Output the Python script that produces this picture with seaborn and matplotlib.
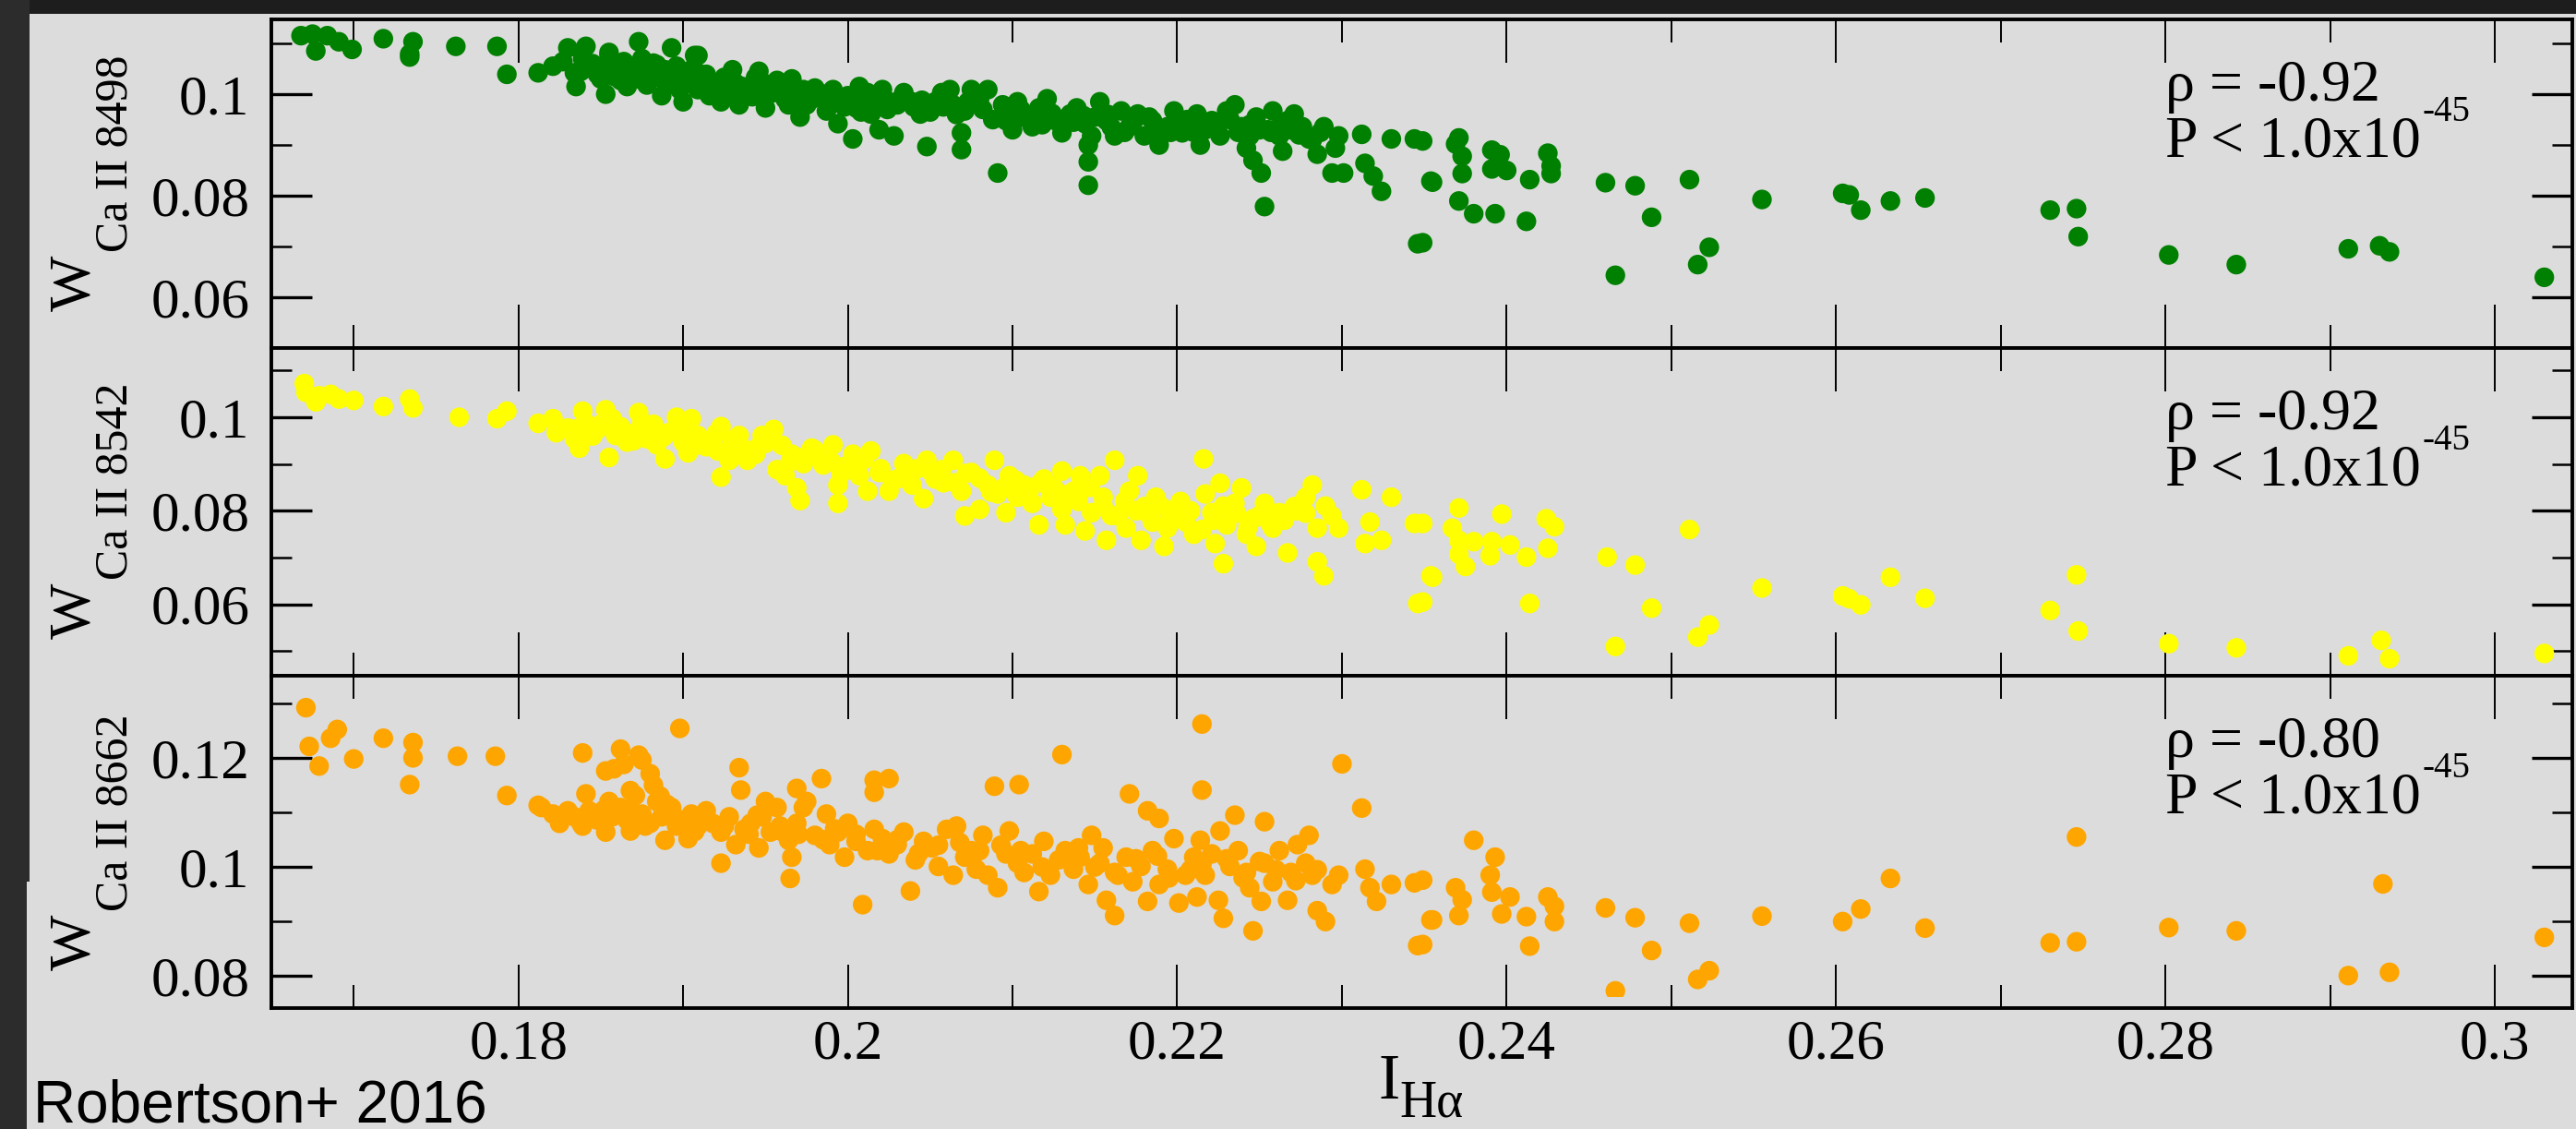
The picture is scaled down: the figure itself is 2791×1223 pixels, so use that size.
import matplotlib
matplotlib.use('Agg')
import matplotlib.pyplot as plt
import matplotlib.transforms as mtransforms
from matplotlib.patches import Rectangle
from matplotlib.ticker import MultipleLocator, FuncFormatter
import seaborn as sns

# ==========================================
# DATA
# ==========================================

# Panel 1: W Ca II 8498 vs I_Halpha (green)
green_x = [
    0.1668, 0.1675, 0.1684, 0.1691, 0.1677, 0.1699, 0.1718, 0.1736, 0.1734, 0.1734,
    0.1762, 0.1787, 0.1793, 0.1812, 0.1830, 0.1873, 0.1893, 0.1841, 0.1855, 0.1909,
    0.1821, 0.1827, 0.1834, 0.1835, 0.1839, 0.1843, 0.1848, 0.1850, 0.1853, 0.1855,
    0.1857, 0.1859, 0.1862, 0.1864, 0.1866, 0.1868, 0.1871, 0.1873, 0.1875, 0.1878,
    0.1880, 0.1882, 0.1884, 0.1887, 0.1889, 0.1891, 0.1893, 0.1896, 0.1898, 0.1900,
    0.1903, 0.1905, 0.1907, 0.1909, 0.1912, 0.1914, 0.1916, 0.1921, 0.1923, 0.1925,
    0.1928, 0.1930, 0.1932, 0.1934, 0.1939, 0.1944, 0.1946, 0.1948, 0.1950, 0.1953,
    0.1957, 0.1962, 0.1964, 0.1966, 0.1969, 0.1971, 0.1973, 0.1975, 0.1980, 0.1982,
    0.1987, 0.1989, 0.1991, 0.1994, 0.1996, 0.2000, 0.2003, 0.2005, 0.2007, 0.2012,
    0.2014, 0.2019, 0.2021, 0.2025, 0.2028, 0.2030, 0.2034, 0.2039, 0.2044, 0.2048,
    0.2053, 0.2057, 0.2062, 0.2064, 0.2069, 0.2069, 0.2071, 0.2075, 0.2080, 0.2085,
    0.2091, 0.2094, 0.2096, 0.2100, 0.2103, 0.2107, 0.2112, 0.2116, 0.2121, 0.2126,
    0.2130, 0.2135, 0.2139, 0.2144, 0.2146, 0.2146, 0.2146, 0.2148, 0.2153, 0.2157,
    0.2162, 0.2166, 0.2171, 0.2176, 0.2180, 0.2185, 0.2189, 0.2194, 0.2198, 0.2203,
    0.2212, 0.2214, 0.2217, 0.2221, 0.2226, 0.2230, 0.2235, 0.2239, 0.2242, 0.2244,
    0.2246, 0.2248, 0.2251, 0.2253, 0.2255, 0.2258, 0.2262, 0.2264, 0.2267, 0.2271,
    0.2276, 0.2280, 0.2285, 0.2289, 0.2294, 0.2296, 0.2298, 0.2301, 0.2312, 0.2314,
    0.2319, 0.2324, 0.2330, 0.2344, 0.2346, 0.2355,
    0.1838, 0.1852, 0.1866, 0.1879, 0.1886, 0.1901, 0.1915, 0.1926, 0.1942, 0.1955,
    0.1968, 0.1978, 0.1998, 0.2010, 0.2024, 0.2040, 0.2050, 0.2066, 0.2082, 0.2098,
    0.2110, 0.2124, 0.2137, 0.2150, 0.2160, 0.2174, 0.2187, 0.2200, 0.2210, 0.2224,
    0.2237, 0.2250, 0.2262, 0.2274, 0.2287,
    0.1845, 0.1858, 0.1872, 0.1884, 0.1897, 0.1910, 0.1922, 0.1936, 0.1950, 0.1962,
    0.1975, 0.1985, 0.1995, 0.2008, 0.2018, 0.2032, 0.2045, 0.2058, 0.2073, 0.2088,
    0.2105, 0.2118, 0.2132, 0.2143, 0.2158, 0.2168, 0.2183, 0.2196, 0.2206, 0.2219,
    0.2232, 0.2244, 0.2257, 0.2269, 0.2282,
    0.2349, 0.2349, 0.2354, 0.2369, 0.2371, 0.2373, 0.2373, 0.2371, 0.2380, 0.2391,
    0.2391, 0.2396, 0.2400, 0.2393, 0.2412, 0.2414, 0.2425, 0.2427, 0.2427, 0.2460,
    0.2466, 0.2478, 0.2488, 0.2511, 0.2516, 0.2523, 0.2555, 0.2604, 0.2608, 0.2615,
    0.2633, 0.2654, 0.2730, 0.2746, 0.2747, 0.2802, 0.2843, 0.2911, 0.2930, 0.2936,
    0.3030,
]
green_y = [
    0.1115, 0.1118, 0.1115, 0.1103, 0.1085, 0.1088, 0.1109, 0.1103, 0.1079, 0.1073,
    0.1094, 0.1094, 0.1039, 0.1042, 0.1091, 0.1103, 0.1091, 0.1094, 0.1082, 0.1076,
    0.1055, 0.1064, 0.1042, 0.1015, 0.1070, 0.1052, 0.1039, 0.1030, 0.1000, 0.1076,
    0.1058, 0.1045, 0.1027, 0.1064, 0.1015, 0.1039, 0.1052, 0.1030, 0.1070, 0.1018,
    0.1042, 0.1061, 0.1033, 0.0997, 0.1048, 0.1021, 0.1039, 0.1055, 0.1009, 0.0985,
    0.1030, 0.1048, 0.1076, 0.1009, 0.1027, 0.1039, 0.0997, 0.1015, 0.0985, 0.1033,
    0.1003, 0.1048, 0.1021, 0.0979, 0.1009, 0.1033, 0.1045, 0.0997, 0.0973, 0.1015,
    0.1027, 0.1003, 0.0979, 0.1030, 0.0991, 0.0955, 0.1009, 0.0979, 0.1012, 0.0997,
    0.0967, 0.0979, 0.1009, 0.0942, 0.0991, 0.0997, 0.0912, 0.0973, 0.1015, 0.1003,
    0.0961, 0.0930, 0.1009, 0.0985, 0.0918, 0.0979, 0.1003, 0.0985, 0.0961, 0.0897,
    0.0985, 0.1003, 0.1009, 0.0979, 0.0924, 0.0891, 0.0967, 0.1009, 0.0991, 0.1009,
    0.0845, 0.0979, 0.0948, 0.0930, 0.0985, 0.0955, 0.0936, 0.0973, 0.0991, 0.0948,
    0.0924, 0.0961, 0.0973, 0.0942, 0.0900, 0.0867, 0.0821, 0.0918, 0.0985, 0.0948,
    0.0918, 0.0967, 0.0936, 0.0961, 0.0918, 0.0948, 0.0900, 0.0936, 0.0967, 0.0924,
    0.0961, 0.0900, 0.0930, 0.0948, 0.0918, 0.0967, 0.0979, 0.0936, 0.0894, 0.0918,
    0.0870, 0.0955, 0.0845, 0.0779, 0.0930, 0.0967, 0.0918, 0.0888, 0.0948, 0.0961,
    0.0936, 0.0912, 0.0882, 0.0936, 0.0845, 0.0894, 0.0918, 0.0845, 0.0921, 0.0864,
    0.0839, 0.0809, 0.0912, 0.0912, 0.0706, 0.0827,
    0.1045, 0.1055, 0.1040, 0.1028, 0.1050, 0.1020, 0.1012, 0.1022, 0.0995, 0.1003,
    0.1010, 0.0990, 0.0975, 0.0985, 0.0970, 0.0975, 0.0965, 0.0960, 0.0970, 0.0962,
    0.0950, 0.0962, 0.0945, 0.0955, 0.0935, 0.0950, 0.0930, 0.0945, 0.0925, 0.0940,
    0.0925, 0.0930, 0.0935, 0.0920, 0.0925,
    0.1060, 0.1035, 0.1045, 0.1058, 0.1030, 0.1040, 0.1005, 0.1015, 0.1020, 0.0990,
    0.0995, 0.1000, 0.0985, 0.0965, 0.0992, 0.0990, 0.0988, 0.0975, 0.0985, 0.0950,
    0.0970, 0.0940, 0.0950, 0.0958, 0.0960, 0.0925, 0.0955, 0.0925, 0.0950, 0.0935,
    0.0950, 0.0940, 0.0925, 0.0930, 0.0910,
    0.0908, 0.0708, 0.0829, 0.0902, 0.0914, 0.0878, 0.0844, 0.0790, 0.0765, 0.0890,
    0.0853, 0.0881, 0.0850, 0.0765, 0.0750, 0.0832, 0.0884, 0.0859, 0.0844, 0.0826,
    0.0644, 0.0820, 0.0758, 0.0832, 0.0665, 0.0699, 0.0793, 0.0805, 0.0802, 0.0772,
    0.0790, 0.0796, 0.0772, 0.0775, 0.0720, 0.0684, 0.0665, 0.0696, 0.0702, 0.0690,
    0.0640,
]

# Panel 2: W Ca II 8542 vs I_Halpha (yellow)
yellow_x = [
    0.1670, 0.1671, 0.1677, 0.1679, 0.1686, 0.1691, 0.1700, 0.1718, 0.1734, 0.1736,
    0.1764, 0.1787, 0.1793, 0.1812, 0.1821, 0.1823, 0.1830, 0.1834, 0.1837, 0.1839,
    0.1841, 0.1843, 0.1848, 0.1853, 0.1855, 0.1857, 0.1859, 0.1862, 0.1866, 0.1871,
    0.1873, 0.1875, 0.1878, 0.1882, 0.1884, 0.1889, 0.1891, 0.1896, 0.1898, 0.1900,
    0.1903, 0.1905, 0.1909, 0.1914, 0.1918, 0.1921, 0.1923, 0.1923, 0.1928, 0.1932,
    0.1934, 0.1939, 0.1944, 0.1948, 0.1950, 0.1955, 0.1957, 0.1962, 0.1966, 0.1969,
    0.1971, 0.1973, 0.1978, 0.1982, 0.1985, 0.1991, 0.1994, 0.1994, 0.1998, 0.2003,
    0.2007, 0.2012, 0.2014, 0.2019, 0.2025, 0.2030, 0.2034, 0.2039, 0.2046, 0.2048,
    0.2053, 0.2057, 0.2064, 0.2069, 0.2071, 0.2075, 0.2080, 0.2085, 0.2089, 0.2091,
    0.2096, 0.2098, 0.2103, 0.2107, 0.2112, 0.2116, 0.2119, 0.2123, 0.2130, 0.2130,
    0.2132, 0.2137, 0.2141, 0.2144, 0.2148, 0.2153, 0.2155, 0.2157, 0.2162, 0.2164,
    0.2169, 0.2171, 0.2176, 0.2178, 0.2180, 0.2185, 0.2187, 0.2192, 0.2194, 0.2198,
    0.2205, 0.2210, 0.2216, 0.2217, 0.2221, 0.2223, 0.2226, 0.2228, 0.2230, 0.2235,
    0.2239, 0.2242, 0.2246, 0.2248, 0.2253, 0.2258, 0.2262, 0.2267, 0.2271, 0.2278,
    0.2282, 0.2285, 0.2285, 0.2289, 0.2294, 0.2298, 0.2312, 0.2314, 0.2317, 0.2324,
    0.2330, 0.2344, 0.2346, 0.2355,
    0.1835, 0.1850, 0.1862, 0.1876, 0.1888, 0.1902, 0.1916, 0.1930, 0.1945, 0.1960,
    0.1975, 0.1990, 0.2005, 0.2020, 0.2035, 0.2050, 0.2065, 0.2080, 0.2095, 0.2110,
    0.2125, 0.2140, 0.2155, 0.2168, 0.2182, 0.2196, 0.2208, 0.2222, 0.2236, 0.2250,
    0.2265, 0.2278,
    0.1845, 0.1858, 0.1870, 0.1882, 0.1895, 0.1908, 0.1920, 0.1938, 0.1952, 0.1965,
    0.1980, 0.1996, 0.2010, 0.2027, 0.2042, 0.2058, 0.2072, 0.2087, 0.2102, 0.2117,
    0.2133, 0.2147, 0.2160, 0.2175, 0.2190, 0.2202, 0.2215, 0.2228, 0.2243, 0.2256,
    0.2272, 0.2290,
    0.2349, 0.2349, 0.2354, 0.2371, 0.2367, 0.2371, 0.2371, 0.2375, 0.2380, 0.2391,
    0.2390, 0.2397, 0.2402, 0.2412, 0.2414, 0.2424, 0.2429, 0.2425, 0.2461, 0.2466,
    0.2478, 0.2488, 0.2511, 0.2516, 0.2523, 0.2555, 0.2604, 0.2615, 0.2633, 0.2654,
    0.2730, 0.2746, 0.2747, 0.2802, 0.2843, 0.2911, 0.2931, 0.2936, 0.3030, 0.2608,
]
yellow_y = [
    0.1072, 0.1053, 0.1033, 0.1046, 0.1049, 0.1039, 0.1036, 0.1023, 0.1039, 0.1020,
    0.1000, 0.0997, 0.1013, 0.0987, 0.0997, 0.0967, 0.0977, 0.0954, 0.0934, 0.1013,
    0.0987, 0.0961, 0.0974, 0.1016, 0.0914, 0.0997, 0.0961, 0.0980, 0.0947, 0.0967,
    0.1010, 0.0990, 0.0954, 0.0974, 0.0941, 0.0911, 0.0967, 0.1000, 0.0980, 0.0947,
    0.0924, 0.0997, 0.0961, 0.0937, 0.0954, 0.0928, 0.0980, 0.0872, 0.0908, 0.0941,
    0.0961, 0.0908, 0.0921, 0.0961, 0.0944, 0.0974, 0.0888, 0.0875, 0.0921, 0.0849,
    0.0822, 0.0901, 0.0934, 0.0914, 0.0898, 0.0941, 0.0855, 0.0816, 0.0895, 0.0921,
    0.0875, 0.0842, 0.0928, 0.0882, 0.0842, 0.0868, 0.0901, 0.0855, 0.0826, 0.0908,
    0.0868, 0.0888, 0.0908, 0.0842, 0.0789, 0.0882, 0.0803, 0.0855, 0.0908, 0.0836,
    0.0796, 0.0875, 0.0829, 0.0855, 0.0816, 0.0770, 0.0868, 0.0829, 0.0885, 0.0803,
    0.0770, 0.0842, 0.0875, 0.0757, 0.0796, 0.0875, 0.0829, 0.0737, 0.0908, 0.0789,
    0.0763, 0.0842, 0.0875, 0.0737, 0.0809, 0.0776, 0.0829, 0.0724, 0.0763, 0.0803,
    0.0776, 0.0750, 0.0911, 0.0836, 0.0796, 0.0730, 0.0859, 0.0687, 0.0770, 0.0816,
    0.0849, 0.0750, 0.0783, 0.0724, 0.0816, 0.0763, 0.0796, 0.0710, 0.0809, 0.0829,
    0.0855, 0.0763, 0.0691, 0.0661, 0.0789, 0.0763, 0.0845, 0.0730, 0.0776, 0.0737,
    0.0829, 0.0773, 0.0602, 0.0658,
    0.0975, 0.0985, 0.0960, 0.0972, 0.0958, 0.0965, 0.0945, 0.0952, 0.0935, 0.0940,
    0.0918, 0.0905, 0.0900, 0.0890, 0.0875, 0.0885, 0.0860, 0.0870, 0.0850, 0.0840,
    0.0850, 0.0820, 0.0810, 0.0820, 0.0795, 0.0785, 0.0800, 0.0780, 0.0795, 0.0790,
    0.0780, 0.0795,
    0.0960, 0.0985, 0.0950, 0.0985, 0.0970, 0.0940, 0.0965, 0.0930, 0.0950, 0.0905,
    0.0930, 0.0880, 0.0910, 0.0865, 0.0890, 0.0860, 0.0880, 0.0840, 0.0865, 0.0860,
    0.0835, 0.0850, 0.0790, 0.0800, 0.0810, 0.0820, 0.0760, 0.0810, 0.0765, 0.0775,
    0.0800, 0.0810,
    0.0773, 0.0605, 0.0661, 0.0806, 0.0763, 0.0737, 0.0707, 0.0681, 0.0734, 0.0734,
    0.0704, 0.0793, 0.0727, 0.0701, 0.0602, 0.0783, 0.0766, 0.0720, 0.0701, 0.0510,
    0.0684, 0.0592, 0.0760, 0.0530, 0.0556, 0.0635, 0.0618, 0.0599, 0.0658, 0.0613,
    0.0587, 0.0663, 0.0543, 0.0516, 0.0507, 0.0490, 0.0523, 0.0484, 0.0495, 0.0612,
]

# Panel 3: W Ca II 8662 vs I_Halpha (orange)
orange_x = [
    0.1671, 0.1673, 0.1679, 0.1686, 0.1690, 0.1700, 0.1718, 0.1736, 0.1736, 0.1734,
    0.1763, 0.1786, 0.1793, 0.1812, 0.1839, 0.1853, 0.1862, 0.1864, 0.1873, 0.1875,
    0.1880, 0.1898, 0.1934, 0.1935, 0.1969, 0.1984, 0.2016, 0.2025, 0.2016, 0.2089,
    0.2104, 0.2130, 0.2171, 0.2182, 0.2189, 0.2215, 0.2215, 0.2235, 0.2253, 0.2300,
    0.2312, 0.2355, 0.2346, 0.1858, 0.1882, 0.1886, 0.1890, 0.1868, 0.1965,
    0.1814, 0.1821, 0.1825, 0.1830, 0.1834, 0.1839, 0.1841, 0.1843, 0.1848, 0.1853,
    0.1855, 0.1857, 0.1862, 0.1866, 0.1868, 0.1871, 0.1875, 0.1880, 0.1884, 0.1887,
    0.1889, 0.1893, 0.1896, 0.1900, 0.1903, 0.1905, 0.1909, 0.1914, 0.1918, 0.1923,
    0.1923, 0.1928, 0.1932, 0.1937, 0.1941, 0.1946, 0.1948, 0.1950, 0.1953, 0.1957,
    0.1959, 0.1964, 0.1966, 0.1969, 0.1973, 0.1975, 0.1980, 0.1987, 0.1989, 0.1994,
    0.1998, 0.2000, 0.2005, 0.2009, 0.2012, 0.2016, 0.2021, 0.2025, 0.2030, 0.2034,
    0.2038, 0.2041, 0.2046, 0.2051, 0.2055, 0.2060, 0.2064, 0.2066, 0.2071, 0.2075,
    0.2078, 0.2082, 0.2085, 0.2091, 0.2096, 0.2098, 0.2103, 0.2107, 0.2112, 0.2116,
    0.2119, 0.2123, 0.2128, 0.2132, 0.2137, 0.2141, 0.2146, 0.2148, 0.2153, 0.2155,
    0.2157, 0.2162, 0.2164, 0.2169, 0.2173, 0.2178, 0.2182, 0.2185, 0.2189, 0.2194,
    0.2198, 0.2201, 0.2205, 0.2210, 0.2212, 0.2214, 0.2217, 0.2221, 0.2225, 0.2226,
    0.2228, 0.2232, 0.2237, 0.2242, 0.2244, 0.2246, 0.2251, 0.2253, 0.2258, 0.2262,
    0.2267, 0.2269, 0.2273, 0.2278, 0.2280, 0.2282, 0.2285, 0.2290, 0.2294, 0.2298,
    0.2314, 0.2317, 0.2321, 0.2330, 0.2344,
    0.1845, 0.1870, 0.1895, 0.1915, 0.1940, 0.1960, 0.1985, 0.2005, 0.2030, 0.2055,
    0.2080, 0.2105, 0.2130, 0.2150, 0.2175, 0.2195, 0.2215, 0.2240, 0.2260, 0.2285,
    0.1838, 0.1852, 0.1877, 0.1890, 0.1907, 0.1925, 0.1945, 0.1970, 0.1992, 0.2018,
    0.2043, 0.2068, 0.2093, 0.2118, 0.2140, 0.2162, 0.2188, 0.2208, 0.2230, 0.2250,
    0.2272,
    0.2349, 0.2349, 0.2354, 0.2369, 0.2373, 0.2371, 0.2380, 0.2390, 0.2391, 0.2393,
    0.2397, 0.2402, 0.2412, 0.2414, 0.2425, 0.2429, 0.2429, 0.2460, 0.2466, 0.2478,
    0.2488, 0.2511, 0.2516, 0.2523, 0.2555, 0.2604, 0.2615, 0.2633, 0.2654, 0.2730,
    0.2746, 0.2746, 0.2802, 0.2843, 0.2911, 0.2932, 0.2936, 0.3030,
]
orange_y = [
    0.1292, 0.1221, 0.1185, 0.1236, 0.1252, 0.1198, 0.1236, 0.1228, 0.1200, 0.1151,
    0.1203, 0.1203, 0.1131, 0.1113, 0.1209, 0.1176, 0.1216, 0.1188, 0.1205, 0.1196,
    0.1171, 0.1254, 0.1182, 0.1141, 0.1144, 0.1162, 0.1159, 0.1162, 0.1137, 0.1148,
    0.1151, 0.1206, 0.1134, 0.1103, 0.1089, 0.1262, 0.1141, 0.1095, 0.1083, 0.1189,
    0.1108, 0.0903, 0.0856, 0.1180, 0.1150, 0.1130, 0.1115, 0.1140, 0.0979,
    0.1109, 0.1097, 0.1080, 0.1103, 0.1092, 0.1075, 0.1134, 0.1103, 0.1086, 0.1064,
    0.1120, 0.1092, 0.1109, 0.1086, 0.1066, 0.1131, 0.1097, 0.1080, 0.1120, 0.1092,
    0.1049, 0.1109, 0.1075, 0.1086, 0.1052, 0.1097, 0.1075, 0.1103, 0.1080, 0.1064,
    0.1007, 0.1092, 0.1041, 0.1069, 0.1080, 0.1035, 0.1092, 0.1120, 0.1064, 0.1109,
    0.1075, 0.1049, 0.1018, 0.1080, 0.1109, 0.1120, 0.1058, 0.1097, 0.1041, 0.1064,
    0.1018, 0.1080, 0.1047, 0.0931, 0.1030, 0.1069, 0.1052, 0.1024, 0.1041, 0.1064,
    0.0956, 0.1013, 0.1047, 0.1035, 0.1001, 0.1069, 0.0985, 0.1075, 0.1018, 0.1030,
    0.0996, 0.1058, 0.0985, 0.0962, 0.1024, 0.1066, 0.1007, 0.0990, 0.1024, 0.0955,
    0.1047, 0.0985, 0.1013, 0.1030, 0.0996, 0.1018, 0.0968, 0.1058, 0.1007, 0.1035,
    0.0939, 0.0911, 0.0985, 0.1018, 0.0973, 0.1001, 0.0937, 0.1030, 0.0968, 0.0996,
    0.1052, 0.0934, 0.0985, 0.1018, 0.0945, 0.1049, 0.0985, 0.1024, 0.0939, 0.1066,
    0.0906, 0.1001, 0.1030, 0.0990, 0.0962, 0.0883, 0.0937, 0.1007, 0.0973, 0.1030,
    0.0939, 0.0990, 0.1041, 0.1007, 0.1058, 0.0985, 0.0920, 0.0900, 0.0968, 0.0985,
    0.0996, 0.0962, 0.0937, 0.0968, 0.0971,
    0.1095, 0.1100, 0.1090, 0.1085, 0.1060, 0.1065, 0.1050, 0.1060, 0.1050, 0.1040,
    0.1030, 0.1030, 0.1015, 0.1000, 0.1015, 0.0980, 0.1005, 0.0980, 0.0995, 0.0995,
    0.1080, 0.1105, 0.1075, 0.1100, 0.1065, 0.1075, 0.1095, 0.1060, 0.1070, 0.1030,
    0.1025, 0.1045, 0.1040, 0.1000, 0.1035, 0.0990, 0.1020, 0.0995, 0.1015, 0.1010,
    0.0975,
    0.0976, 0.0858, 0.0903, 0.0962, 0.0940, 0.0911, 0.1049, 0.0985, 0.0954, 0.1018,
    0.0914, 0.0945, 0.0909, 0.0855, 0.0945, 0.0928, 0.0900, 0.0925, 0.0773, 0.0907,
    0.0847, 0.0897, 0.0794, 0.0810, 0.0910, 0.0900, 0.0923, 0.0979, 0.0888, 0.0861,
    0.0863, 0.1055, 0.0889, 0.0883, 0.0801, 0.0969, 0.0807, 0.0871,
]

line_ids = ['8498', '8542', '8662']
rho_values = ['-0.92', '-0.92', '-0.80']
p_text = 'P < 1.0x10'
p_exp = '-45'
y_limits = [(0.0501, 0.1147), (0.0448, 0.1148), (0.0742, 0.1351)]
x_limits = (0.1650, 0.3047)
credit = 'Robertson+ 2016'

# ==========================================
# FIGURE SETUP
# ==========================================
W, H, DPI = 2791, 1223, 100
BG = '#dcdcdc'
plt.rcParams['font.family'] = ['Liberation Serif', 'DejaVu Serif']

fig = plt.figure(figsize=(W / DPI, H / DPI), dpi=DPI, facecolor=BG)

# dark slide frame on the top and left edge
fig.add_artist(Rectangle((0, 1 - 15 / H), 1, 15 / H, transform=fig.transFigure,
                         color='#1d1d1d', lw=0, zorder=-5))
fig.add_artist(Rectangle((0, (H - 955) / H), 32 / W, 955 / H, transform=fig.transFigure,
                         color='#2c2c2c', lw=0, zorder=-5))
fig.add_artist(Rectangle((0, 0), 29 / W, (H - 955) / H, transform=fig.transFigure,
                         color='#2c2c2c', lw=0, zorder=-5))

# panel rows in pixels (top, bottom)
rows = [(21, 377), (377, 731.7), (731.7, 1091.7)]
left_px, right_px = 294, 2787

series = [(green_x, green_y, '#008000'),
          (yellow_x, yellow_y, '#ffff00'),
          (orange_x, orange_y, '#ffa500')]

axes = []
for i, (top, bot) in enumerate(rows):
    rect = [left_px / W, (H - bot) / H, (right_px - left_px) / W, (bot - top) / H]
    ax = fig.add_axes(rect, sharex=axes[0] if axes else None)
    axes.append(ax)
    ax.set_facecolor(BG)
    xs, ys, col = series[i]
    sns.scatterplot(x=xs, y=ys, ax=ax, color=col, s=235, linewidth=0,
                    edgecolor='none', legend=False, zorder=3)

    ax.set_xlim(*x_limits)
    ax.set_ylim(*y_limits[i])

    for sp in ax.spines.values():
        sp.set_linewidth(2.8)
        sp.set_color('black')
        sp.set_zorder(4)

    ax.xaxis.set_major_locator(MultipleLocator(0.02))
    ax.xaxis.set_minor_locator(MultipleLocator(0.01))
    ax.yaxis.set_major_locator(MultipleLocator(0.02))
    ax.yaxis.set_minor_locator(MultipleLocator(0.01))
    fmt = FuncFormatter(lambda v, p: f'{v:g}')
    ax.xaxis.set_major_formatter(fmt)
    ax.yaxis.set_major_formatter(fmt)

    ax.tick_params(axis='x', which='major', direction='in', length=34, width=1.4,
                   top=True, bottom=True, labelsize=44, pad=9)
    ax.tick_params(axis='x', which='minor', direction='in', length=18, width=1.4,
                   top=True, bottom=True)
    ax.tick_params(axis='y', which='major', direction='in', length=32, width=2.4,
                   left=True, right=True, labelsize=44, pad=17)
    ax.tick_params(axis='y', which='minor', direction='in', length=16, width=1.8,
                   left=True, right=True)
    if i < 2:
        ax.tick_params(axis='x', labelbottom=False)
    ax.set_xlabel('')
    ax.set_ylabel('')

    h_px = bot - top
    # y label: big W with a subscript line name
    w_center = 0.196
    ax.text((97 - left_px) / (right_px - left_px), w_center, 'W', transform=ax.transAxes,
            rotation=90, rotation_mode='anchor', ha='center', va='baseline', fontsize=46)
    ax.text((138 - left_px) / (right_px - left_px), w_center + 34 / h_px,
            'Ca II ' + line_ids[i], transform=ax.transAxes,
            rotation=90, rotation_mode='anchor', ha='left', va='baseline', fontsize=36)

    # correlation annotation
    trans = mtransforms.blended_transform_factory(ax.transData, ax.transAxes)
    ax.text(0.28, 1 - 88 / h_px, '\u03c1 = ' + rho_values[i], transform=trans,
            fontsize=46, ha='left', va='baseline', zorder=5)
    t2 = ax.text(0.28, 1 - 149 / h_px, p_text, transform=trans,
                 fontsize=46, ha='left', va='baseline', zorder=5)
    ax.annotate(p_exp, xy=(1, 0), xycoords=t2, xytext=(1, 38), textcoords='offset points',
                fontsize=28, ha='left', va='baseline', zorder=5)

# clip of the lowest panel sits a bit above its bottom axis
clip = Rectangle((0, 0.0325), 1, 0.9675, transform=axes[2].transAxes, visible=False)
axes[2].add_patch(clip)
axes[2].collections[-1].set_clip_path(clip)

# x axis label I_Halpha
fig.text(1494 / W, (H - 1190) / H, 'I', fontsize=50, ha='left', va='baseline')
fig.text(1516 / W, (H - 1210) / H, 'H\u03b1', fontsize=40, ha='left', va='baseline')

# credit line
fig.text(36 / W, (H - 1215) / H, credit, fontsize=46, ha='left', va='baseline',
         family='Liberation Sans')

fig.savefig('out.png', dpi=DPI, facecolor=fig.get_facecolor())
